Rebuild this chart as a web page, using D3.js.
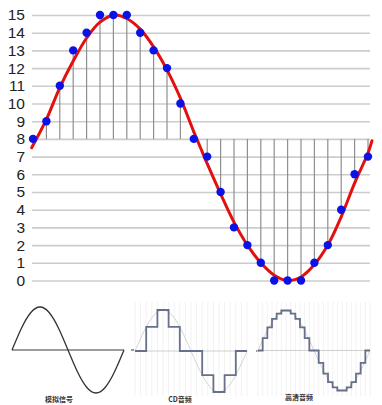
<!DOCTYPE html>
<html>
<head>
<meta charset="utf-8">
<script src="https://cdn.jsdelivr.net/npm/d3@7"></script>
<style>
  html, body { margin: 0; padding: 0; background: #fff; }
  svg { display: block; }
</style>
</head>
<body>
<svg id="chart" width="382" height="405"></svg>
<script>
// ---- Main sampling chart ----
const sampleLevels = [8, 9, 11, 13, 14, 15, 15, 15, 14, 13, 12, 10, 8, 7, 5, 3, 2, 1, 0, 0, 0, 1, 2, 4, 6, 7];
const yTicks = [0, 1, 2, 3, 4, 5, 6, 7, 8, 9, 10, 11, 12, 13, 14, 15];
const baselineLevel = 8;

// Continuous signal (position along the sample axis, level)
const waveT = [-0.1, 1, 2, 3, 4, 5, 6.1, 7, 8, 9, 10, 11, 12, 12.5, 13, 14, 15, 16, 17, 18, 19, 20, 21, 22, 23, 24, 25, 25.3];
const waveV = [7.5, 9.1, 10.9, 12.4, 13.7, 14.6, 15.0, 14.8, 14.2, 13.2, 11.9, 10.3, 8.4, 7.5, 6.6, 4.9, 3.3, 2.0, 1.0, 0.3, 0.0, 0.2, 0.9, 2.0, 3.6, 5.5, 7.2, 7.9];

// ---- Small comparison panels ----
const analogPhase = [0, 1, 2, 3, 4, 5, 6, 7, 8, 9, 10, 11, 12];
const analogValues = [0, 0.5, 0.866, 1, 0.866, 0.5, 0, -0.5, -0.866, -1, -0.866, -0.5, 0];
const cdSteps = [0, 0.59, 1, 0.59, 0, 0, -0.59, -1, -0.59, 0];
const hiResSteps = [0, 0.31, 0.58, 0.79, 0.92, 1, 1, 0.92, 0.79, 0.58, 0.31, 0, 0,
                    -0.31, -0.58, -0.79, -0.92, -1, -1, -0.92, -0.79, -0.58, -0.31, 0];
const panelLabels = ["模拟信号", "CD音频", "高清音频"];

const svg = d3.select("#chart");

// Scales for the main chart
const x = d3.scaleLinear().domain([0, sampleLevels.length - 1]).range([33, 368]);
const y = d3.scaleLinear().domain([0, 15]).range([280.5, 15]);

// Horizontal grid + labels
const gridLeft = 32, gridRight = 370;
const yAxis = d3.axisLeft(y)
  .tickValues(yTicks)
  .tickFormat(d3.format("d"))
  .tickSize(-(gridRight - gridLeft))
  .tickPadding(7);

const gAxis = svg.append("g")
  .attr("transform", `translate(${gridLeft},0)`)
  .call(yAxis);
gAxis.select(".domain").remove();
gAxis.selectAll(".tick line")
  .attr("stroke", "#cccccc")
  .attr("stroke-width", 1.6);
gAxis.selectAll(".tick text")
  .attr("fill", "#222")
  .style("font-family", "'Liberation Sans', Arial, sans-serif")
  .style("font-size", "15.5px");

// Vertical sample stems from the baseline
svg.append("g")
  .selectAll("line")
  .data(sampleLevels)
  .join("line")
  .attr("x1", (d, i) => x(i))
  .attr("x2", (d, i) => x(i))
  .attr("y1", y(baselineLevel))
  .attr("y2", d => y(d))
  .attr("stroke", "#8f8f8f")
  .attr("stroke-width", 1.2);

// Continuous signal
const waveLine = d3.line()
  .x((d, i) => x(waveT[i]))
  .y(d => y(d))
  .curve(d3.curveCatmullRom.alpha(0.5));
svg.append("path")
  .attr("d", waveLine(waveV))
  .attr("fill", "none")
  .attr("stroke", "#e31010")
  .attr("stroke-width", 3)
  .attr("stroke-linecap", "round");

// Sample points
svg.append("g")
  .selectAll("circle")
  .data(sampleLevels)
  .join("circle")
  .attr("cx", (d, i) => x(i))
  .attr("cy", d => y(d))
  .attr("r", 4.2)
  .attr("fill", "#0a12e6");

// ---- Panels ----
const faintSine = "#d4d4d4";

function panelSine(g, x0, x1, mid, amp, color, width) {
  const px = d3.scaleLinear().domain([0, 12]).range([x0, x1]);
  const py = d3.scaleLinear().domain([-1, 1]).range([mid + amp, mid - amp]);
  g.append("path")
    .attr("d", d3.line()
      .x((d, i) => px(analogPhase[i]))
      .y(d => py(d))
      .curve(d3.curveNatural)(analogValues))
    .attr("fill", "none")
    .attr("stroke", color)
    .attr("stroke-width", width);
}

// Panel 1: analog signal
const p1 = svg.append("g");
p1.append("line")
  .attr("x1", 12).attr("x2", 124).attr("y1", 350).attr("y2", 350)
  .attr("stroke", "#3a3a3a").attr("stroke-width", 1.2);
panelSine(p1, 12, 124, 350, 43, "#333", 1.3);
p1.append("line")
  .attr("x1", 131).attr("x2", 134).attr("y1", 350).attr("y2", 350)
  .attr("stroke", "#555").attr("stroke-width", 1.2);

// Stepped panels
function stepPanel(steps, x0, x1, mid, amp, gridStep) {
  const g = svg.append("g");
  const sx = d3.scaleLinear().domain([0, steps.length]).range([x0, x1]);
  const sy = d3.scaleLinear().domain([-1, 1]).range([mid + amp, mid - amp]);
  // faint vertical grid
  g.append("g")
    .selectAll("line")
    .data(d3.range(x0, x1 + 0.1, gridStep))
    .join("line")
    .attr("x1", d => d).attr("x2", d => d)
    .attr("y1", 302).attr("y2", 396)
    .attr("stroke", "#f2f2f2").attr("stroke-width", 1);
  // faint midline
  g.append("line")
    .attr("x1", x0).attr("x2", x1).attr("y1", mid).attr("y2", mid)
    .attr("stroke", "#cfcfcf").attr("stroke-width", 1);
  // faint analog reference
  panelSine(g, x0, x1, mid, amp, faintSine, 1);
  // staircase
  const pts = steps.map((v, i) => [i, v]).concat([[steps.length, steps[steps.length - 1]]]);
  g.append("path")
    .attr("d", d3.line()
      .x(d => sx(d[0]))
      .y(d => sy(d[1]))
      .curve(d3.curveStepAfter)(pts))
    .attr("fill", "none")
    .attr("stroke", "#67708a")
    .attr("stroke-width", 1.8);
  return g;
}

stepPanel(cdSteps, 135, 247, 351, 41, 5.6);
svg.append("line")
  .attr("x1", 256).attr("x2", 259).attr("y1", 351).attr("y2", 351)
  .attr("stroke", "#555").attr("stroke-width", 1.2);
stepPanel(hiResSteps, 258, 370, 350.5, 40, 4.67);

// Panel captions
const labelX = [59, 180, 299];
const labelY = [401.5, 401.5, 400];
svg.append("g")
  .selectAll("text")
  .data(panelLabels)
  .join("text")
  .attr("x", (d, i) => labelX[i])
  .attr("y", (d, i) => labelY[i])
  .attr("text-anchor", "middle")
  .attr("fill", "#333")
  .style("font-family", "'Noto Sans CJK SC', sans-serif")
  .style("font-size", "7px")
  .style("font-weight", "bold")
  .text(d => d);
</script>
</body>
</html>
